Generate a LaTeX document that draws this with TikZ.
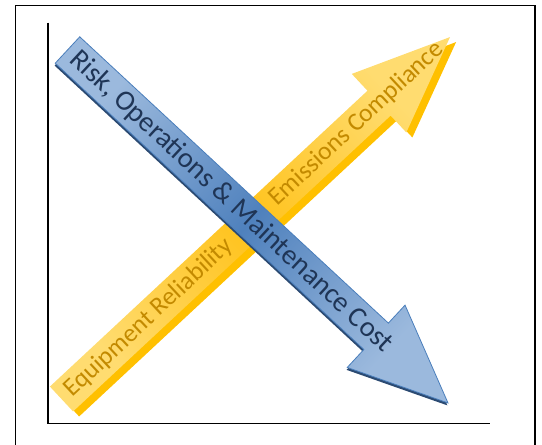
\documentclass[tikz,border=0pt]{standalone}
\usepackage{fontspec}
\setmainfont{Carlito}
\definecolor{blueLt}{HTML}{9BB9DD}
\definecolor{blueDk}{HTML}{4F81BD}
\definecolor{blueLine}{HTML}{4A7EBB}
\definecolor{blueShd}{HTML}{2B4A72}
\definecolor{blueTxt}{HTML}{1F3556}
\definecolor{yelLt}{HTML}{FFDC70}
\definecolor{yelDk}{HTML}{FFC21A}
\definecolor{yelShd}{HTML}{FFC000}
\definecolor{yelTxt}{HTML}{C38A00}
\begin{document}
\begin{tikzpicture}[x=1pt,y=1pt,
  lbl/.style={inner sep=0pt,transform shape},
  bluebody/.style={top color=blueLt,bottom color=blueLt,middle color=blueDk,shading angle=47,draw=blueLine,line width=0.8pt},
  yelbody/.style={top color=yelLt,bottom color=yelLt,middle color=yelDk,shading angle=-47}]
\useasboundingbox (0,0) rectangle (542,445);
\def\ra{-42.85};
\def\ya{42.97};
% frame and axes
\draw[line width=1.6pt] (15.5,-5) -- (15.5,439.3) -- (535,439.3) -- (535,-5);
\coordinate (O) at (48,21.5);
\coordinate (yTop) at (48,422.3);
\coordinate (xEnd) at (490,21.5);
\draw[line width=1.6pt] (yTop) -- (O) -- (xEnd);

\coordinate (complTail) at (61.5,46);
\coordinate (riskTail) at (67.5,395);

% rising arrow
\begin{scope}[shift={(complTail)},rotate=\ya]
\fill[yelShd,shift={(1,-7.8)}] (0,17) -- (434,17) -- (434,40) -- (531,0) -- (434,-40) -- (434,-17) -- (0,-17) -- cycle;
\shade[yelbody] (0,17) -- (434,17) -- (434,40) -- (531,0) -- (434,-40) -- (434,-17) -- (0,-17) -- cycle;
\node[lbl,font=\fontsize{25.5}{26}\selectfont,text=yelTxt,anchor=west] (equip) at (9,0) {Equipment Reliability};
\node[lbl,font=\fontsize{25.5}{26}\selectfont,text=yelTxt,anchor=west] (emis) at (289,0) {Emissions Compliance};
\end{scope}

% falling arrow
\begin{scope}[shift={(riskTail)},rotate=\ra]
\fill[blueShd,shift={(1.2,-2.2)}] (0,18) -- (421,18) -- (421,42.5) -- (519,0) -- (421,-42.5) -- (421,-18) -- (0,-18) -- cycle;
\shade[bluebody] (0,18) -- (421,18) -- (421,42.5) -- (519,0) -- (421,-42.5) -- (421,-18) -- (0,-18) -- cycle;
\node[lbl,font=\fontsize{28.5}{29}\selectfont,text=blueTxt,anchor=west] (risk) at (8,0) {Risk, Operations \& Maintenance Cost};
\end{scope}
\end{tikzpicture}
\end{document}
